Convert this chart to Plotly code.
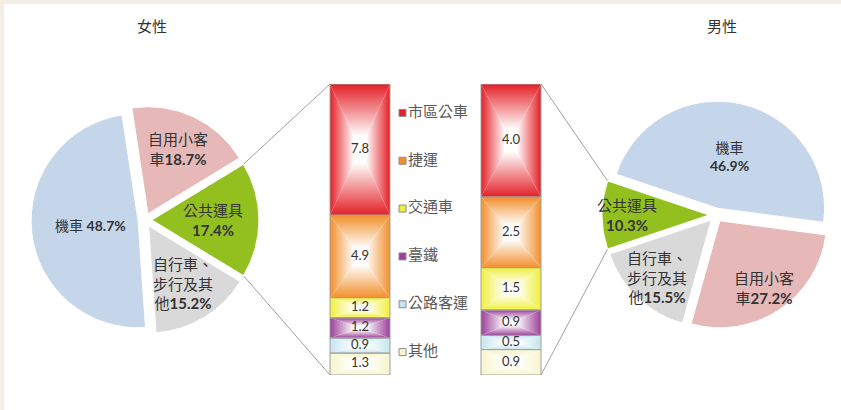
import math
import plotly.graph_objects as go

W, H = 841, 410
FONT = "Lato, Noto Sans CJK TC"

# ---- data -------------------------------------------------------------
modes = ["機車", "自用小客車", "公共運具", "自行車、步行及其他"]
female_share = [48.7, 18.7, 17.4, 15.2]
male_share = [46.9, 27.2, 10.3, 15.5]
female_wrap = ["機車 ", "自用小客<br>車", "公共運具<br>", "自行車、<br>步行及其<br>他"]
male_wrap = ["機車<br>", "自用小客<br>車", "公共運具<br>", "自行車、<br>步行及其<br>他"]

transit_types = ["市區公車", "捷運", "交通車", "臺鐵", "公路客運", "其他"]
female_transit = [7.8, 4.9, 1.2, 1.2, 0.9, 1.3]
male_transit = [4.0, 2.5, 1.5, 0.9, 0.5, 0.9]

# ---- styling / layout ---------------------------------------------------
mode_colors = {"機車": "#c6d6ea", "自用小客車": "#e6b9b8",
               "公共運具": "#93c01f", "自行車、步行及其他": "#d9d9d9"}
transit_colors = ["#e41f26", "#f28f2c", "#f0ef3c", "#9b3f98", "#c5e6ef", "#f7f5cc"]

PIE_R = 107
PULL = 0.065
PIE_CENTER = {"女性": (145, 220), "男性": (716, 215)}
# how far out (fraction of radius) each slice label sits
LABEL_FRAC = {"女性": {"機車": 0.51, "自用小客車": 0.73, "公共運具": 0.64, "自行車、步行及其他": 0.69},
              "男性": {"機車": 0.56, "自用小客車": 0.82, "公共運具": 0.83, "自行車、步行及其他": 0.80}}
BAR_X0 = {"女性": 330, "男性": 481}
BAR_W = 60
BAR_TOP, BAR_BOTTOM = 84, 375
LEGEND_X = 402.5
LEGEND_TOP, LEGEND_BOTTOM = 89, 376
LINE_GREY = "#a0a0a0"

fig = go.Figure()
annotations = []


def pie_domain(cx, cy):
    half = PIE_R * (1 + PULL)
    return dict(x=[(cx - half) / W, (cx + half) / W],
                y=[(H - cy - half) / H, (H - cy + half) / H])


def add_pie(name, shares, wraps, order):
    cx, cy = PIE_CENTER[name]
    vals = [shares[i] for i in order]
    total = sum(vals)
    angles = [360 * v / total for v in vals]
    a1 = angles[0]
    # 公共運具 is the first slice, centred towards the bars
    mid = 90 if name == "女性" else -90
    rot = mid - a1 / 2
    fig.add_trace(go.Pie(
        values=vals,
        labels=[modes[i] for i in order],
        textinfo="none",
        sort=False,
        direction="counterclockwise",
        rotation=rot,
        pull=PULL,
        marker=dict(colors=[mode_colors[modes[i]] for i in order],
                    line=dict(color="white", width=1)),
        domain=pie_domain(cx, cy),
        showlegend=False,
        hoverinfo="label+percent",
    ))
    # slice labels
    mids = [mid]
    edge = rot
    for a in angles[1:]:
        mids.append(edge - a / 2)
        edge -= a
    for i, cmid in zip(order, mids):
        frac = LABEL_FRAC[name][modes[i]]
        cr = math.radians(cmid)
        lx = cx + frac * PIE_R * math.sin(cr)
        ly = cy - frac * PIE_R * math.cos(cr)
        annotations.append(dict(
            text=f"{wraps[i]}<b>{shares[i]}%</b>", x=lx / W, y=1 - ly / H,
            xref="paper", yref="paper", showarrow=False,
            xanchor="center", yanchor="middle",
            font=dict(family=FONT, size=14 if i == 0 else 15, color="#333333"),
        ))
    # corners of the public transport slice (pixels) for connectors
    off = PULL * PIE_R
    cm = math.radians(mid)
    ox, oy = cx + off * math.sin(cm), cy - off * math.cos(cm)
    pts = []
    for c in (rot, rot + a1):
        cr = math.radians(c)
        pts.append((ox + PIE_R * math.sin(cr), oy - PIE_R * math.cos(cr)))
    pts.sort(key=lambda p: p[1])
    return pts


def add_bar(name, values):
    x0 = BAR_X0[name]
    x1 = x0 + BAR_W
    xc = (x0 + x1) / 2
    total = sum(values)
    top = 100.0
    ox, oy, tx, ty, tt = [], [], [], [], []
    for v, col in zip(values, transit_colors):
        y1 = top
        y0 = top - 100 * v / total
        yc = (y0 + y1) / 2
        cs = [[0, "#ffffff"], [0.2, "#ffffff"], [1, col]]
        tris = [
            ([x0, x0, xc, x0], [y0, y1, yc, y0], "horizontal", xc, x0),
            ([x1, x1, xc, x1], [y0, y1, yc, y0], "horizontal", xc, x1),
            ([x0, x1, xc, x0], [y0, y0, yc, y0], "vertical", yc, y0),
            ([x0, x1, xc, x0], [y1, y1, yc, y1], "vertical", yc, y1),
        ]
        for xs, ys, kind, s, e in tris:
            fig.add_trace(go.Scatter(
                x=xs, y=ys, fill="toself", mode="lines",
                line=dict(width=0),
                fillgradient=dict(type=kind, colorscale=cs, start=s, stop=e),
                xaxis="x", yaxis="y", showlegend=False, hoverinfo="skip",
            ))
        ox += [x0, x1, x1, x0, x0, None]
        oy += [y0, y0, y1, y1, y0, None]
        tx.append(xc)
        ty.append(yc)
        tt.append(f"{v:.1f}")
        top = y0
    fig.add_trace(go.Scatter(
        x=ox, y=oy, mode="lines", line=dict(color=LINE_GREY, width=1),
        xaxis="x", yaxis="y", showlegend=False, hoverinfo="skip",
    ))
    fig.add_trace(go.Scatter(
        x=tx, y=ty, mode="text", text=tt,
        textfont=dict(family=FONT, size=13, color="#333333"),
        xaxis="x", yaxis="y", showlegend=False,
        hovertext=[f"{name} {t}: {v}" for t, v in zip(transit_types, values)],
        hoverinfo="text",
    ))


f_pts = add_pie("女性", female_share, female_wrap, [2, 1, 0, 3])
m_pts = add_pie("男性", male_share, male_wrap, [2, 3, 1, 0])
add_bar("女性", female_transit)
add_bar("男性", male_transit)

# connectors (pixel overlay axis)
fx = BAR_X0["女性"]
mx = BAR_X0["男性"] + BAR_W
cx_, cy_ = [], []
for (px, py), by in zip(f_pts, (BAR_TOP, BAR_BOTTOM)):
    cx_ += [px, fx, None]
    cy_ += [py, by, None]
for (px, py), by in zip(m_pts, (BAR_TOP, BAR_BOTTOM)):
    cx_ += [mx, px, None]
    cy_ += [by, py, None]
fig.add_trace(go.Scatter(
    x=cx_, y=cy_, mode="lines", line=dict(color=LINE_GREY, width=1),
    xaxis="x", yaxis="y3", showlegend=False, hoverinfo="skip",
))

# legend
fig.add_trace(go.Scatter(
    x=[LEGEND_X] * len(transit_types), y=transit_types,
    mode="markers+text", text=transit_types, textposition="middle right",
    textfont=dict(family="Noto Sans CJK TC", size=15, color="#595959"),
    marker=dict(symbol="square", size=7, color=transit_colors,
                line=dict(color="#8c8c8c", width=1)),
    xaxis="x", yaxis="y2", showlegend=False, hoverinfo="skip",
))

for title, (tx, ty) in {"女性": (152, 25), "男性": (722, 25)}.items():
    annotations.append(dict(
        text=title, x=tx / W, y=1 - ty / H, xref="paper", yref="paper",
        showarrow=False, xanchor="center", yanchor="middle",
        font=dict(family="Noto Sans CJK TC", size=15, color="#333333"),
    ))

hidden = dict(visible=False, showgrid=False, zeroline=False, fixedrange=True)
fig.update_layout(
    width=W, height=H,
    margin=dict(l=0, r=0, t=0, b=0),
    paper_bgcolor="#f3eee4",
    plot_bgcolor="rgba(0,0,0,0)",
    xaxis=dict(domain=[0, 1], range=[0, W], **hidden),
    yaxis=dict(domain=[(H - BAR_BOTTOM) / H, (H - BAR_TOP) / H], range=[0, 100],
               anchor="x", **hidden),
    yaxis2=dict(domain=[(H - LEGEND_BOTTOM) / H, (H - LEGEND_TOP) / H], type="category",
                categoryorder="array", categoryarray=transit_types,
                range=[5.5, -0.5], anchor="x", **hidden),
    yaxis3=dict(domain=[0, 1], range=[H, 0], anchor="x", **hidden),
    shapes=[dict(type="rect", xref="paper", yref="paper",
                 x0=4 / W, x1=1, y0=0, y1=1 - 4 / H,
                 fillcolor="white", line=dict(width=0), layer="below")],
    annotations=annotations,
    showlegend=False,
)

fig.write_html("out.html", config={"displayModeBar": False},
               post_script="document.body.style.margin='0';")
